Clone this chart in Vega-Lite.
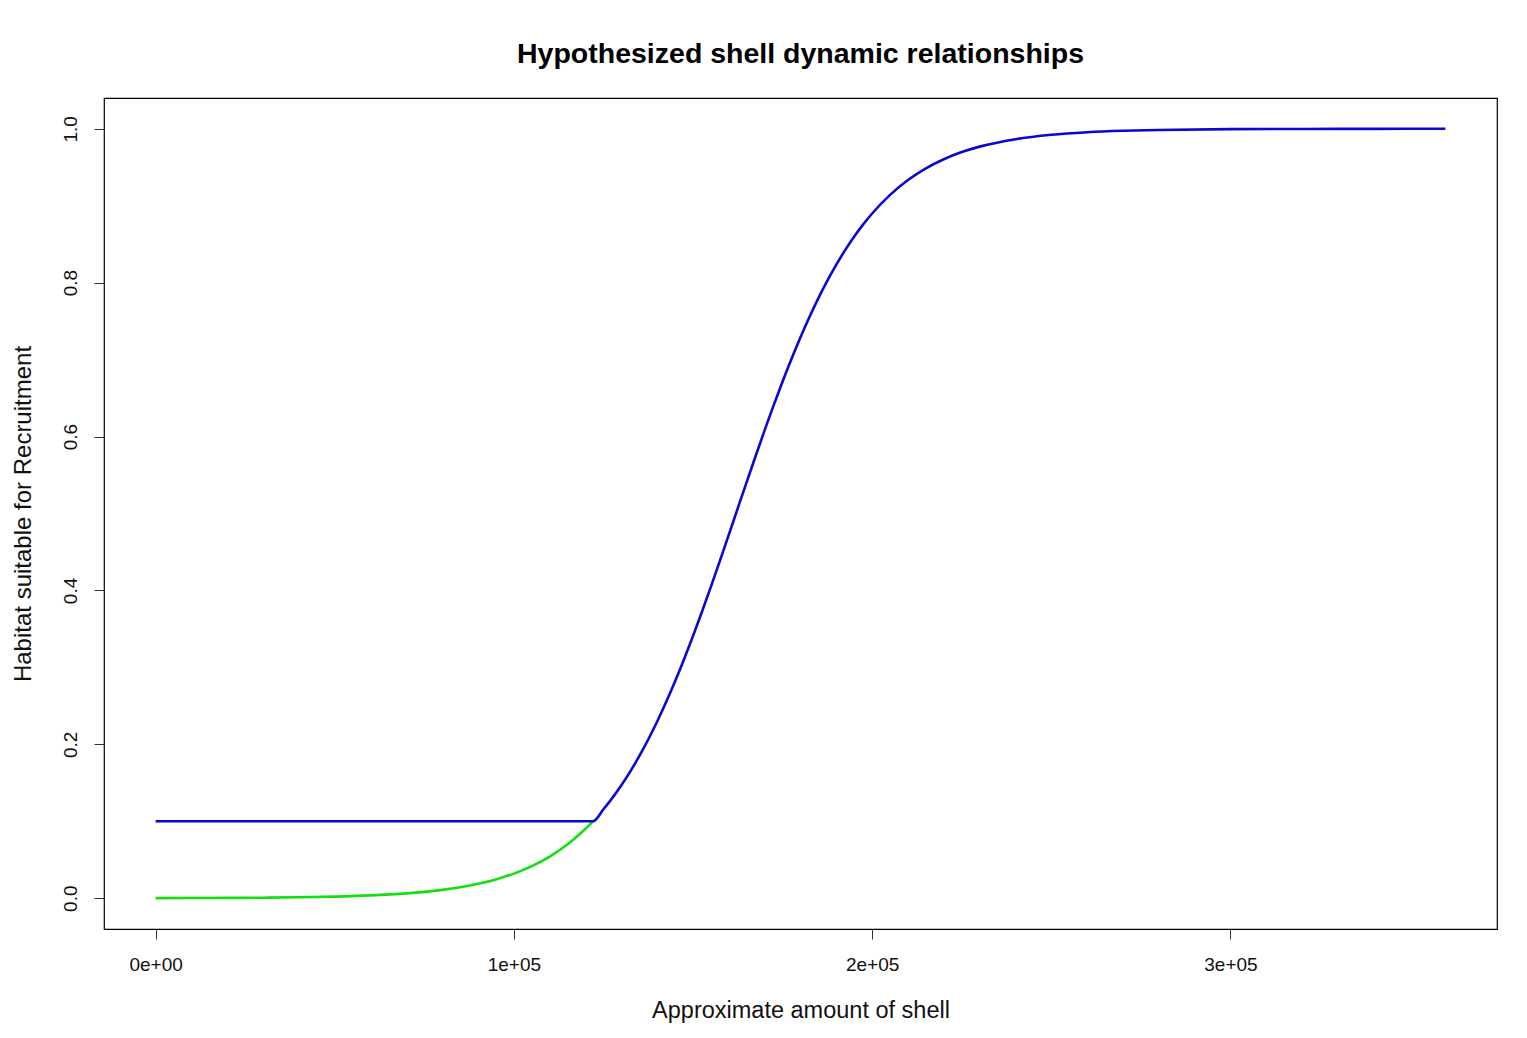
{
  "$schema": "https://vega.github.io/schema/vega-lite/v6.json",
  "width": 1393,
  "height": 831,
  "autosize": {"type": "none"},
  "padding": {"left": 104, "top": 98, "right": 30, "bottom": 109},
  "background": "white",
  "config": {
    "view": {"stroke": "black", "strokeWidth": 1.2},
    "font": "Liberation Sans"
  },
  "title": {
    "text": "Hypothesized shell dynamic relationships",
    "fontSize": 28.5,
    "fontWeight": "bold",
    "font": "Liberation Sans",
    "color": "black",
    "anchor": "middle",
    "offset": 30
  },
  "datasets": {
    "curves": [
      {"curve": "green", "x": 0, "y": 0.000135},
      {"curve": "green", "x": 10000, "y": 0.000234},
      {"curve": "green", "x": 20000, "y": 0.000406},
      {"curve": "green", "x": 30000, "y": 0.000703},
      {"curve": "green", "x": 40000, "y": 0.00122},
      {"curve": "green", "x": 50000, "y": 0.00211},
      {"curve": "green", "x": 60000, "y": 0.00365},
      {"curve": "green", "x": 70000, "y": 0.00631},
      {"curve": "green", "x": 75000, "y": 0.00829},
      {"curve": "green", "x": 80000, "y": 0.01088},
      {"curve": "green", "x": 85000, "y": 0.01428},
      {"curve": "green", "x": 90000, "y": 0.0187},
      {"curve": "green", "x": 95000, "y": 0.02448},
      {"curve": "green", "x": 100000, "y": 0.032},
      {"curve": "green", "x": 105000, "y": 0.0417},
      {"curve": "green", "x": 110000, "y": 0.0542},
      {"curve": "green", "x": 115000, "y": 0.0701},
      {"curve": "green", "x": 120000, "y": 0.0903},
      {"curve": "green", "x": 122050, "y": 0.1},
      {"curve": "blue", "x": 0, "y": 0.1},
      {"curve": "blue", "x": 122050, "y": 0.1},
      {"curve": "blue", "x": 125000, "y": 0.1156},
      {"curve": "blue", "x": 127500, "y": 0.1304},
      {"curve": "blue", "x": 130000, "y": 0.1468},
      {"curve": "blue", "x": 132500, "y": 0.1649},
      {"curve": "blue", "x": 135000, "y": 0.1847},
      {"curve": "blue", "x": 137500, "y": 0.2063},
      {"curve": "blue", "x": 140000, "y": 0.2297},
      {"curve": "blue", "x": 142500, "y": 0.2549},
      {"curve": "blue", "x": 145000, "y": 0.2819},
      {"curve": "blue", "x": 147500, "y": 0.3106},
      {"curve": "blue", "x": 150000, "y": 0.3407},
      {"curve": "blue", "x": 152500, "y": 0.3723},
      {"curve": "blue", "x": 155000, "y": 0.4049},
      {"curve": "blue", "x": 157500, "y": 0.4384},
      {"curve": "blue", "x": 160000, "y": 0.4725},
      {"curve": "blue", "x": 162500, "y": 0.5069},
      {"curve": "blue", "x": 165000, "y": 0.5412},
      {"curve": "blue", "x": 167500, "y": 0.5751},
      {"curve": "blue", "x": 170000, "y": 0.6083},
      {"curve": "blue", "x": 172500, "y": 0.6405},
      {"curve": "blue", "x": 175000, "y": 0.6715},
      {"curve": "blue", "x": 177500, "y": 0.7011},
      {"curve": "blue", "x": 180000, "y": 0.7291},
      {"curve": "blue", "x": 182500, "y": 0.7554},
      {"curve": "blue", "x": 185000, "y": 0.7799},
      {"curve": "blue", "x": 187500, "y": 0.8026},
      {"curve": "blue", "x": 190000, "y": 0.8234},
      {"curve": "blue", "x": 192500, "y": 0.8426},
      {"curve": "blue", "x": 195000, "y": 0.86},
      {"curve": "blue", "x": 197500, "y": 0.8757},
      {"curve": "blue", "x": 200000, "y": 0.8899},
      {"curve": "blue", "x": 205000, "y": 0.9141},
      {"curve": "blue", "x": 210000, "y": 0.9334},
      {"curve": "blue", "x": 215000, "y": 0.9486},
      {"curve": "blue", "x": 220000, "y": 0.9604},
      {"curve": "blue", "x": 225000, "y": 0.9697},
      {"curve": "blue", "x": 230000, "y": 0.9768},
      {"curve": "blue", "x": 240000, "y": 0.9865},
      {"curve": "blue", "x": 250000, "y": 0.9922},
      {"curve": "blue", "x": 260000, "y": 0.9955},
      {"curve": "blue", "x": 270000, "y": 0.9974},
      {"curve": "blue", "x": 280000, "y": 0.9985},
      {"curve": "blue", "x": 300000, "y": 0.9995},
      {"curve": "blue", "x": 320000, "y": 0.9998},
      {"curve": "blue", "x": 340000, "y": 0.9999},
      {"curve": "blue", "x": 360000, "y": 1.0}
    ]
  },
  "data": {"name": "curves"},
  "encoding": {
    "x": {
      "field": "x",
      "type": "quantitative",
      "scale": {"domain": [-14400, 374400], "nice": false, "zero": false},
      "axis": {
        "title": "Approximate amount of shell",
        "values": [0, 100000, 200000, 300000],
        "labelExpr": "datum.value == 0 ? '0e+00' : (datum.value / 100000) + 'e+05'",
        "domain": false,
        "grid": false,
        "ticks": true,
        "tickColor": "#333333",
        "tickSize": 10,
        "tickWidth": 1,
        "labelFont": "Liberation Sans",
        "labelFontSize": 19,
        "labelColor": "#111111",
        "labelPadding": 16,
        "titleFont": "Liberation Sans",
        "titleFontSize": 23.5,
        "titleFontWeight": "normal",
        "titleColor": "#111111",
        "titlePadding": 24
      }
    },
    "y": {
      "field": "y",
      "type": "quantitative",
      "scale": {"domain": [-0.04, 1.04], "nice": false, "zero": false},
      "axis": {
        "title": "Habitat suitable for Recruitment",
        "values": [0, 0.2, 0.4, 0.6, 0.8, 1.0],
        "format": ".1f",
        "domain": false,
        "grid": false,
        "tickColor": "#333333",
        "tickSize": 10,
        "tickWidth": 1,
        "labelAngle": -90,
        "labelAlign": "center",
        "labelBaseline": "bottom",
        "labelFont": "Liberation Sans",
        "labelFontSize": 19,
        "labelColor": "#111111",
        "labelPadding": 14,
        "titleFont": "Liberation Sans",
        "titleFontSize": 24,
        "titleFontWeight": "normal",
        "titleColor": "#111111",
        "titlePadding": 26
      }
    }
  },
  "layer": [
    {
      "transform": [{"filter": "datum.curve == 'green'"}],
      "mark": {"type": "line", "color": "#10e010", "strokeWidth": 2.6, "interpolate": "monotone"}
    },
    {
      "transform": [{"filter": "datum.curve == 'blue'"}],
      "mark": {"type": "line", "color": "#0808d0", "strokeWidth": 2.6, "interpolate": "monotone"}
    }
  ]
}
